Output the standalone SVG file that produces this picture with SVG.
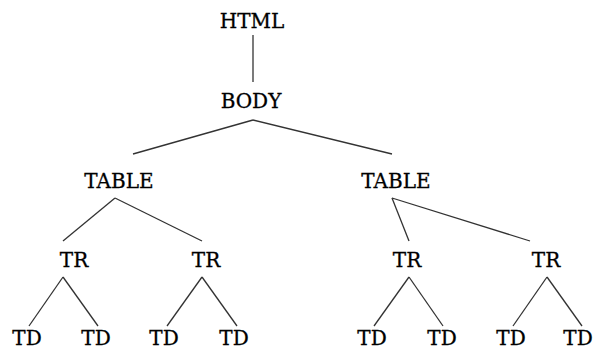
<svg xmlns="http://www.w3.org/2000/svg" width="593" height="350" viewBox="0 0 593 350">
<style>
text{font-family:"DejaVu Serif","Liberation Serif",serif;font-size:20px;fill:#000;stroke:#000;stroke-width:0.3;text-anchor:middle}
line{stroke:#333;stroke-width:1.3}
</style>
<rect width="593" height="350" fill="#fff"/>
<g id="connectors">
<line x1="253" y1="35" x2="253" y2="82"/>
<line x1="253" y1="120" x2="133" y2="154"/>
<line x1="253" y1="120" x2="392" y2="154"/>
<line x1="115" y1="198" x2="63" y2="241"/>
<line x1="115" y1="198" x2="202" y2="241"/>
<line x1="392" y1="198" x2="409" y2="241"/>
<line x1="392" y1="198" x2="530" y2="241"/>
<line x1="63" y1="277" x2="29" y2="326"/>
<line x1="63" y1="277" x2="98" y2="326"/>
<line x1="202" y1="277" x2="167" y2="326"/>
<line x1="202" y1="277" x2="237" y2="326"/>
<line x1="409" y1="277" x2="374" y2="326"/>
<line x1="409" y1="277" x2="443" y2="326"/>
<line x1="547" y1="277" x2="513" y2="326"/>
<line x1="547" y1="277" x2="582" y2="326"/>
</g>
<g id="html"><text x="252" y="28">HTML</text></g>
<g id="body"><text x="251" y="108">BODY</text></g>
<g id="table1"><text x="119" y="188">TABLE</text></g>
<g id="table2"><text x="396" y="188">TABLE</text></g>
<g id="tr1"><text x="74" y="267">TR</text></g>
<g id="tr2"><text x="206" y="267">TR</text></g>
<g id="tr3"><text x="407" y="267">TR</text></g>
<g id="tr4"><text x="546" y="267">TR</text></g>
<g id="td1"><text x="27" y="345">TD</text></g>
<g id="td2"><text x="96" y="345">TD</text></g>
<g id="td3"><text x="164" y="345">TD</text></g>
<g id="td4"><text x="234" y="345">TD</text></g>
<g id="td5"><text x="372" y="345">TD</text></g>
<g id="td6"><text x="442" y="345">TD</text></g>
<g id="td7"><text x="511" y="345">TD</text></g>
<g id="td8"><text x="578" y="345">TD</text></g>
</svg>
